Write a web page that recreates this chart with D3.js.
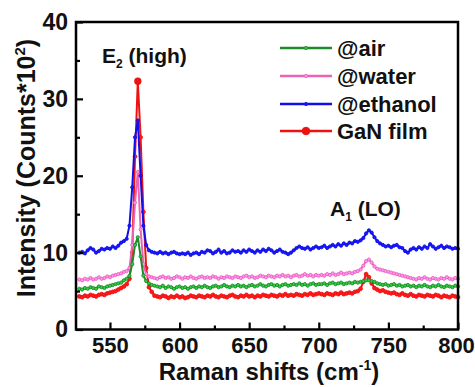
<!DOCTYPE html>
<html><head><meta charset="utf-8">
<script src="https://cdn.jsdelivr.net/npm/d3@7"></script>
<style>
html,body{margin:0;padding:0;background:#fff;}
text{font-family:"Liberation Sans",Arial,sans-serif;font-weight:bold;fill:#111;}
</style></head><body>
<svg id="c" width="475" height="387"></svg>
<script>
// Raman shift positions (cm^-1)
const shifts = d3.range(528, 801, 2);

const air = [5.3,5.2,5.4,5.3,5.5,5.4,5.3,5.6,5.5,5.4,5.6,5.7,5.8,5.9,6.0,
6.1,6.4,6.6,7.0,8.5,11.0,12.0,9.5,7.0,6.3,6.0,5.8,
5.7,5.6,5.5,5.7,5.4,5.6,5.5,5.3,5.5,5.6,
5.4,5.5,5.3,5.5,5.6,5.4,5.6,5.5,5.7,5.5,
5.4,5.6,5.7,5.5,5.6,5.8,5.6,5.5,5.7,5.6,
5.8,5.6,5.7,5.5,5.7,5.8,5.6,5.7,5.9,5.7,
5.6,5.8,5.9,5.7,5.8,5.6,5.8,5.9,5.7,5.8,
5.9,5.8,6.0,5.8,5.9,5.7,5.9,6.0,5.8,5.9,
5.9,6.0,5.8,6.0,6.1,5.9,6.0,6.1,5.9,6.0,
6.1,6.0,6.2,6.1,6.2,6.3,6.4,6.4,6.3,6.2,
6.0,5.9,5.8,5.9,5.7,5.8,5.9,5.7,5.8,5.6,
5.7,5.8,5.6,5.7,5.5,5.7,5.6,5.8,5.6,5.5,
5.7,5.6,5.8,5.6,5.5,5.7,5.6,5.5,5.7,5.6];

const water = [6.5,6.4,6.6,6.5,6.7,6.5,6.6,6.8,6.6,6.7,6.9,6.8,7.0,7.1,7.2,
7.3,7.5,7.6,8.0,11.0,16.5,20.5,13.0,8.5,7.2,6.9,6.8,
6.7,6.6,6.8,6.9,6.7,6.8,6.6,6.7,6.9,6.8,
6.6,6.8,6.7,6.9,6.7,6.6,6.8,6.9,6.7,6.8,
6.7,6.9,6.8,6.6,6.8,6.7,6.9,6.8,6.7,6.9,
6.8,6.7,6.9,7.0,6.8,6.9,6.7,6.8,7.0,6.9,
6.8,7.0,6.9,6.8,7.0,6.9,7.1,6.9,7.0,6.8,
7.0,7.1,6.9,7.0,7.2,7.0,7.1,6.9,7.1,7.0,
7.1,7.0,7.2,7.1,7.3,7.1,7.2,7.4,7.2,7.3,
7.4,7.3,7.5,7.6,7.8,8.3,8.9,9.1,8.7,8.2,
7.9,7.8,7.7,7.6,7.5,7.4,7.3,7.2,7.1,7.0,
6.9,6.8,6.7,6.6,6.5,6.7,6.6,6.8,6.6,6.5,
6.7,6.6,6.5,6.7,6.6,6.8,6.6,6.5,6.7,6.6];

const ethanol = [10.0,10.1,9.9,10.3,10.6,10.4,10.0,10.2,10.5,10.4,10.6,10.5,10.8,10.6,10.9,
11.3,11.5,11.8,13.5,18.5,25.0,27.2,20.0,13.5,11.0,10.3,10.1,
10.0,9.9,10.1,9.9,10.0,9.8,10.0,10.1,9.9,9.8,
9.9,9.8,10.0,9.7,9.9,10.0,9.8,10.1,10.0,10.3,
10.2,9.9,10.1,10.4,10.0,10.2,9.9,10.0,10.3,10.1,
10.2,10.0,10.3,10.1,10.4,10.2,10.0,10.3,10.1,10.4,
10.2,10.5,10.3,10.0,10.2,10.4,10.1,10.0,9.8,10.0,
10.3,10.6,10.8,10.6,10.5,10.7,10.4,10.6,10.8,10.6,
10.7,10.9,10.6,10.8,11.0,10.8,11.1,10.9,11.2,11.0,
11.3,11.2,11.5,11.4,11.6,11.9,12.5,12.9,12.6,12.0,
11.5,11.2,11.0,10.8,10.9,10.7,10.9,11.0,10.7,10.6,
10.2,10.0,10.4,10.6,10.4,10.7,10.5,10.8,10.6,11.1,
10.8,10.5,10.7,10.9,10.6,10.8,10.7,10.5,10.6,10.5];

const ganFilm = [4.3,4.2,4.4,4.3,4.5,4.4,4.3,4.5,4.6,4.5,4.7,4.8,4.9,5.0,5.2,
5.4,5.6,5.9,6.6,10.0,22.5,32.3,25.0,15.3,8.0,5.5,4.9,
4.4,4.3,4.2,4.4,4.3,4.1,4.3,4.2,4.4,4.2,
4.3,4.1,4.2,4.4,4.3,4.2,4.4,4.3,4.2,4.4,
4.3,4.5,4.3,4.2,4.4,4.3,4.2,4.4,4.5,4.3,
4.2,4.4,4.3,4.5,4.3,4.4,4.2,4.4,4.3,4.5,
4.4,4.3,4.5,4.4,4.3,4.5,4.4,4.6,4.4,4.5,
4.4,4.6,4.5,4.4,4.6,4.5,4.7,4.5,4.6,4.7,
4.6,4.5,4.7,4.6,4.5,4.7,4.6,4.8,4.6,4.7,
4.8,4.7,4.9,5.0,5.3,6.2,7.2,6.8,6.0,5.4,
5.2,5.0,5.1,4.9,4.8,4.7,4.8,4.6,4.5,4.7,
4.5,4.4,4.6,4.4,4.3,4.5,4.4,4.3,4.5,4.4,
4.3,4.5,4.4,4.2,4.4,4.3,4.2,4.4,4.3,4.2];

const seriesNames = ["@air","@water","@ethanol","GaN film"];
const seriesColors = ["#1e8a2a","#ec62b4","#1010e6","#ee1111"];
const xTicks = [550,600,650,700,750,800];
const xMinor = [575,625,675,725,775];
const yTicks = [0,10,20,30,40];
const yMinor = [5,15,25,35];

const svg = d3.select("#c");
const L = 76, R = 458, T = 22, B = 329.5;
const x = d3.scaleLinear().domain([525.6, 800]).range([L, R]);
const y = d3.scaleLinear().domain([0, 40]).range([B, T]);

const values = [air, water, ethanol, ganFilm];
const drawOrder = [3, 1, 2, 0];
const line = d3.line().x((d,i)=>x(shifts[i])).y(d=>y(d));
const plot = svg.append("g");
drawOrder.forEach(k=>{
  const g = plot.append("g");
  g.append("path").datum(values[k]).attr("d", line)
    .attr("fill","none").attr("stroke", seriesColors[k]).attr("stroke-width", 2);
  g.selectAll("circle").data(values[k]).join("circle")
    .attr("cx",(d,i)=>x(shifts[i])).attr("cy",d=>y(d))
    .attr("r", k===3?1.9:1.6)
    .attr("fill", d3.color(seriesColors[k]).brighter(1.2))
    .attr("stroke", seriesColors[k]).attr("stroke-width",0.9);
});
// big red marker at the E2 peak
plot.append("circle").attr("cx", x(shifts[ganFilm.indexOf(d3.max(ganFilm))]))
  .attr("cy", y(d3.max(ganFilm))).attr("r",3.6).attr("fill","#ee1111");

// frame
svg.append("rect").attr("x",L).attr("y",T).attr("width",R-L).attr("height",B-T)
  .attr("fill","none").attr("stroke","#000").attr("stroke-width",2.5);

// axes with inward ticks
const xAxis = d3.axisBottom(x).tickValues(xTicks).tickSize(-7).tickPadding(10).tickFormat(d3.format("d"));
const gx = svg.append("g").attr("transform",`translate(0,${B})`).call(xAxis);
gx.select(".domain").remove();
gx.selectAll(".tick line").attr("stroke","#000").attr("stroke-width",2.2);
gx.selectAll("text").attr("font-size",22).attr("dy","0.95em").attr("y",3).style("font-family","Liberation Sans, Arial").style("font-weight","bold").attr("fill","#111");
gx.selectAll("text").filter(d=>d===800).attr("dx",-2);
const gxm = svg.append("g").attr("transform",`translate(0,${B})`).call(d3.axisBottom(x).tickValues(xMinor).tickSize(-4).tickFormat(""));
gxm.select(".domain").remove();
gxm.selectAll(".tick line").attr("stroke","#000").attr("stroke-width",2.2);

const yAxis = d3.axisLeft(y).tickValues(yTicks).tickSize(-7).tickPadding(9);
const gy = svg.append("g").attr("transform",`translate(${L},0)`).call(yAxis);
gy.select(".domain").remove();
gy.selectAll(".tick line").attr("stroke","#000").attr("stroke-width",2.2);
gy.selectAll("text").attr("font-size",23).attr("x",-8).style("font-family","Liberation Sans, Arial").style("font-weight","bold").attr("fill","#111");
const gym = svg.append("g").attr("transform",`translate(${L},0)`).call(d3.axisLeft(y).tickValues(yMinor).tickSize(-4).tickFormat(""));
gym.select(".domain").remove();
gym.selectAll(".tick line").attr("stroke","#000").attr("stroke-width",2.2);

// axis titles
const xt = svg.append("text").attr("x",269).attr("y",380).attr("text-anchor","middle").attr("font-size",24);
xt.append("tspan").text("Raman shifts (cm");
xt.append("tspan").attr("font-size",14).attr("dy",-10).text("-1");
xt.append("tspan").attr("dy",10).text(")");

const yt = svg.append("text").attr("transform","translate(35,168) rotate(-90)").attr("text-anchor","middle").attr("font-size",25);
yt.append("tspan").text("Intensity (Counts*10");
yt.append("tspan").attr("font-size",15).attr("dy",-10).text("2");
yt.append("tspan").attr("dy",10).text(")");

// peak annotations
const e2 = svg.append("text").attr("x",102).attr("y",63).attr("font-size",21);
e2.append("tspan").text("E");
e2.append("tspan").attr("font-size",12).attr("dy",5).text("2");
e2.append("tspan").attr("dy",-5).text(" (high)");
const a1 = svg.append("text").attr("x",330).attr("y",216).attr("font-size",21);
a1.append("tspan").text("A");
a1.append("tspan").attr("font-size",12).attr("dy",5).text("1");
a1.append("tspan").attr("dy",-5).text(" (LO)");

// legend
const legRows = [48, 76, 104, 131];
seriesNames.forEach((n,k)=>{
  const g = svg.append("g").attr("transform",`translate(0,${legRows[k]})`);
  g.append("line").attr("x1",280).attr("x2",332).attr("y1",0).attr("y2",0)
    .attr("stroke",seriesColors[k]).attr("stroke-width",2.6);
  g.append("circle").attr("cx",306).attr("cy",0).attr("r",k===3?3.8:1.6)
    .attr("fill", k===3?seriesColors[k]:d3.color(seriesColors[k]).brighter(1.2))
    .attr("stroke",seriesColors[k]).attr("stroke-width",0.9);
  g.append("text").attr("x",337).attr("y",8).attr("font-size",22).text(n);
});
</script>
</body></html>
